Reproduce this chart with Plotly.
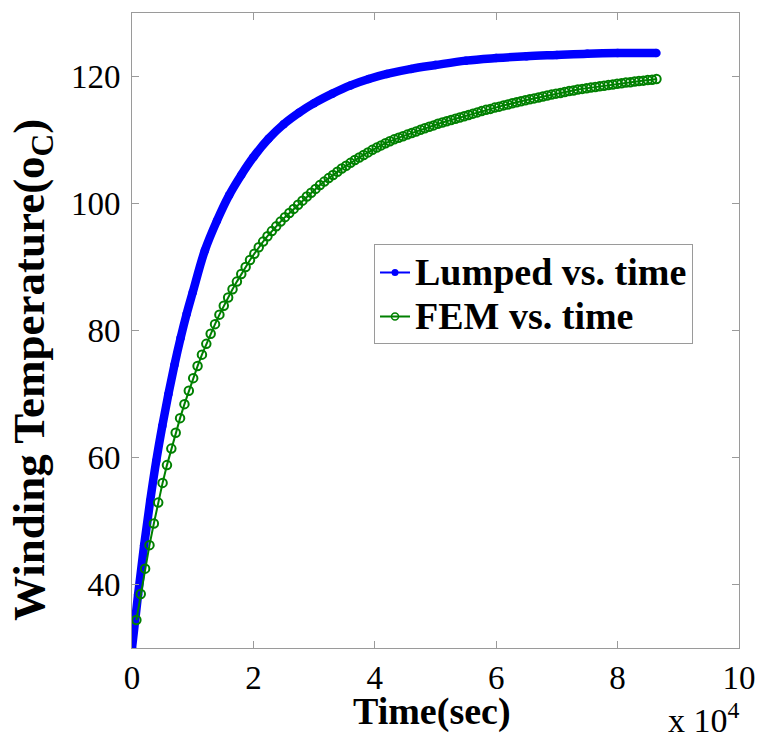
import numpy as np
import plotly.graph_objects as go

# Lumped-parameter thermal model: winding temperature (degC) over one day
lumped_time_s = [0, 1000, 2000, 3000, 4000, 5000, 6000, 7000, 8000, 9000,
                 10000, 12000, 14000, 16000, 18000, 20000, 22500, 25000,
                 27500, 30000, 33000, 36000, 39000, 42000, 46000, 50000,
                 55000, 60000, 65000, 70000, 75000, 80000, 86400]
lumped_temp = [30.0, 38.4, 46.2, 53.2, 59.5, 65.0, 70.0, 74.6, 78.8, 82.6,
               86.0, 92.6, 97.3, 101.3, 104.5, 107.3, 110.2, 112.5,
               114.3, 115.8, 117.3, 118.6, 119.6, 120.4, 121.2, 121.8,
               122.5, 122.9, 123.2, 123.4, 123.6, 123.7, 123.7]

# FEM solution sampled every 720 s (12 min)
fem_time_s = np.arange(720, 86400 + 1, 720)
fem_temp = [34.4, 38.5, 42.5, 46.2, 49.6, 52.9, 56.0, 58.8, 61.4, 63.9,
            66.2, 68.4, 70.5, 72.5, 74.4, 76.2, 77.9, 79.5, 81.0, 82.5,
            83.9, 85.2, 86.5, 87.7, 88.9, 90.0, 91.1, 92.1, 93.1, 94.0,
            94.85, 95.65, 96.4, 97.15, 97.85, 98.5, 99.15, 99.8, 100.45, 101.1,
            101.7, 102.3, 102.9, 103.45, 104.0, 104.5, 105.0, 105.5, 105.95, 106.4,
            106.85, 107.25, 107.65, 108.05, 108.45, 108.8, 109.15, 109.5, 109.8, 110.1,
            110.35, 110.6, 110.85, 111.1, 111.35, 111.6, 111.85, 112.1, 112.3, 112.55,
            112.75, 112.95, 113.15, 113.35, 113.55, 113.75, 113.95, 114.15, 114.35, 114.55,
            114.75, 114.9, 115.1, 115.25, 115.45, 115.6, 115.8, 115.95, 116.1, 116.25,
            116.4, 116.55, 116.7, 116.85, 117.0, 117.15, 117.3, 117.4, 117.55, 117.7,
            117.8, 117.95, 118.05, 118.15, 118.25, 118.35, 118.45, 118.55, 118.65, 118.75,
            118.85, 118.95, 119.05, 119.1, 119.2, 119.3, 119.35, 119.45, 119.5, 119.6]

x_tick_values = [0, 20000, 40000, 60000, 80000, 100000]
x_tick_labels = ["0", "2", "4", "6", "8", "10"]
y_tick_values = [40, 60, 80, 100, 120]

BLUE = "#0000ff"
GREEN = "#008000"
AXIS_GREY = "#9a9a9a"
SERIF = "Liberation Serif"

fig = go.Figure()

# Dense lumped result drawn as a thick band
fig.add_trace(go.Scatter(
    x=lumped_time_s, y=lumped_temp, mode="lines+markers",
    line=dict(color=BLUE, width=8.5, shape="spline"),
    marker=dict(color=BLUE, size=8.5),
    showlegend=False, hoverinfo="skip"))

# FEM result with open circle markers
fig.add_trace(go.Scatter(
    x=fem_time_s, y=fem_temp, mode="lines+markers",
    line=dict(color=GREEN, width=2),
    marker=dict(symbol="circle-open", color=GREEN, size=8.5,
                line=dict(color=GREEN, width=2)),
    showlegend=False, hoverinfo="skip"))

# Legend entries
LEG_SPAN = '<span style="font-size:38px"><b>{}</b></span>'
fig.add_trace(go.Scatter(
    x=[None], y=[None], mode="lines+markers",
    name=LEG_SPAN.format("Lumped vs. time"),
    line=dict(color=BLUE, width=2), marker=dict(color=BLUE, size=7)))
fig.add_trace(go.Scatter(
    x=[None], y=[None], mode="lines+markers",
    name=LEG_SPAN.format("FEM vs. time"),
    line=dict(color=GREEN, width=2),
    marker=dict(symbol="circle-open", color=GREEN, size=7,
                line=dict(color=GREEN, width=1.5))))

axis_common = dict(
    showline=True, linecolor=AXIS_GREY, linewidth=1, mirror="ticks",
    ticks="inside", ticklen=7, tickcolor=AXIS_GREY, tickwidth=1,
    showgrid=False, zeroline=False,
    tickfont=dict(family=SERIF, size=33, color="black"),
)

fig.update_xaxes(range=[0, 100000], tickvals=x_tick_values,
                 ticktext=x_tick_labels, ticklabelstandoff=0, **axis_common)
fig.update_yaxes(range=[30, 130], tickvals=y_tick_values,
                 ticklabelstandoff=4, **axis_common)

fig.add_annotation(
    text="<b>Time(sec)</b>", xref="paper", yref="paper", x=0.495, y=-0.1,
    xanchor="center", yanchor="middle", showarrow=False,
    font=dict(family=SERIF, size=38, color="black"))
fig.add_annotation(
    text="<b>Winding Temperature(o<sub>C</sub>)</b>", xref="paper", yref="paper",
    x=-0.165, y=0.4375, xanchor="center", yanchor="middle", textangle=-90,
    showarrow=False, font=dict(family=SERIF, size=45, color="black"))
fig.add_annotation(
    text="x 10<sup>4</sup>", xref="paper", yref="paper", x=0.943, y=-0.111,
    xanchor="center", yanchor="middle", showarrow=False,
    font=dict(family=SERIF, size=34, color="black"))

fig.update_layout(
    width=768, height=740,
    margin=dict(l=132, r=22, t=12, b=91.5),
    paper_bgcolor="white", plot_bgcolor="white",
    legend=dict(x=0.3987, y=0.6355, xanchor="left", yanchor="top",
                bgcolor="white", bordercolor=AXIS_GREY, borderwidth=1,
                font=dict(family=SERIF, size=31.5, color="black"),
                itemwidth=30, tracegroupgap=0),
)

fig.write_html("out.html")
